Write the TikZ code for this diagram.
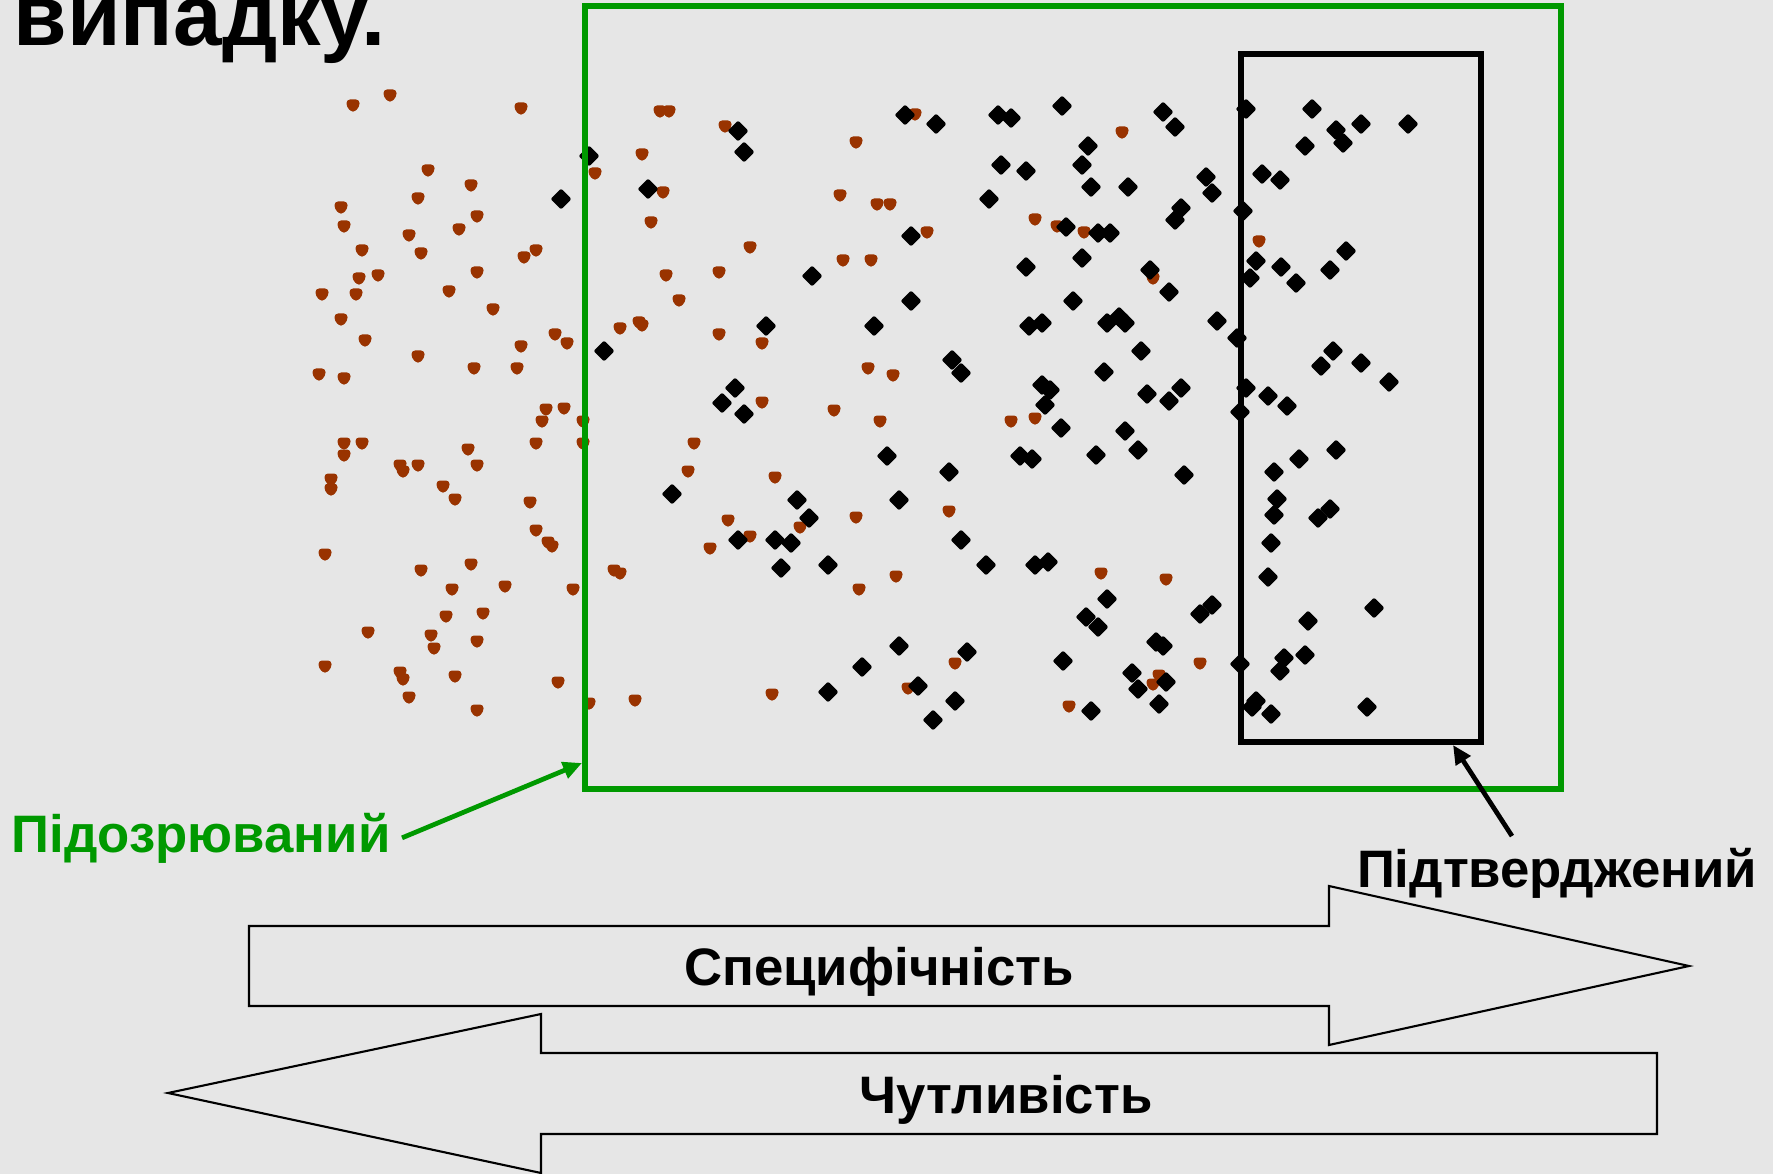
\documentclass[tikz,border=0pt]{standalone}
\usepackage{fontspec}
\setmainfont{Liberation Sans}
\usepackage{tikz}
\usetikzlibrary{arrows.meta}
\definecolor{SlideGray}{RGB}{230,230,230}
\definecolor{SlideGreen}{RGB}{0,153,0}
\definecolor{SlideBrown}{RGB}{153,51,0}

\begin{document}
\begin{tikzpicture}[x=0.1mm,y=-0.1mm,lbl/.style={font=\fontsize{15}{18}\selectfont\bfseries,inner sep=0pt},bigarrow/.style={draw=black,line width=0.6pt,fill=SlideGray},bdot/.style={fill=SlideBrown,rounded corners=0.35mm},dia/.style={fill=black,rounded corners=0.2mm},pointer/.style={line width=1.35pt,-{Triangle[length=5.4pt,width=4.8pt]}}]
\useasboundingbox (0,0) rectangle (1773,1174);
\fill[SlideGray] (0,0) rectangle (1773,1174);
\node[lbl,font=\fontsize{24.8}{29}\selectfont\bfseries,anchor=base west] (title) at (13,46) {випадку.};
\foreach \px/\py in %
{353/106,390/96,521/109,660/112,669/112,642/155,595/174,428/171,471/186,418/199,341/208,344/227,
 477/217,459/230,409/236,663/193,651/223,362/251,421/254,524/258,536/251,477/273,359/279,378/276,
 666/276,322/295,356/295,449/292,679/301,493/310,341/320,620/329,639/323,642/326,555/335,567/344,
 365/341,418/357,521/347,319/375,344/379,474/369,517/369,
 725/127,915/115,856/143,840/196,877/205,890/205,927/233,1035/220,1057/227,750/248,843/261,871/261,
 719/273,719/335,762/344,868/369,893/376,762/403,834/411,
 1122/133,1084/233,1259/242,1153/279,
 546/410,564/409,542/422,583/422,344/444,362/444,344/456,468/450,536/444,583/444,400/466,403/472,
 418/466,477/466,331/480,331/490,443/487,455/500,530/503,536/531,548/543,552/547,325/555,421/571,
 471/565,452/590,505/587,573/590,614/571,620/574,446/617,483/614,368/633,431/636,434/649,477/642,
 325/667,400/673,403/680,455/677,558/683,409/698,477/711,589/704,635/701,
 880/422,1011/422,1035/419,694/444,688/472,775/478,728/521,750/537,800/528,856/518,949/512,710/549,
 896/577,859/590,955/664,908/689,772/695,
 1101/574,1166/580,1200/664,1159/676,1153/685,1069/707} {
   \fill[bdot] (\px,\py) ++(-6.5,-6.5) -- ++(13,0) -- ++(0,7.5) -- ++(-6.5,6) -- ++(-6.5,-6) -- cycle;
}
\foreach \px/\py in %
{589/156,561/199,648/189,604/351,
 738/131,744/152,905/115,936/124,998/115,1011/118,1062/106,1001/165,1026/171,989/199,911/236,1066/227,
 1026/267,812/276,911/301,766/326,874/326,1029/326,1042/323,952/360,961/373,1042/385,1050/390,1045/405,
 735/388,722/403,744/414,
 1163/112,1175/127,1088/146,1082/165,1091/187,1128/187,1206/177,1212/193,1181/208,1175/220,1098/233,
 1110/233,1082/258,1150/270,1169/292,1073/301,1107/323,1119/317,1125/323,1141/351,1104/372,1147/394,
 1169/401,1181/388,1217/321,1237/338,1246/109,1243/211,1256/261,1250/278,1262/174,1280/180,1312/109,
 1305/146,1336/130,1343/143,1361/124,1408/124,1281/267,1296/283,1330/270,1346/251,1333/351,1321/366,
 1361/363,1389/382,1246/388,1268/396,1287/406,1240/412,
 672/494,
 1061/428,887/456,949/472,1020/456,1032/459,797/500,809/518,899/500,738/540,775/540,791/543,781/568,
 828/565,961/540,986/565,1035/565,1048/562,899/646,862/667,828/692,967/652,918/686,955/701,933/720,
 1125/431,1138/450,1096/455,1184/475,1274/472,1299/459,1336/450,1277/499,1274/515,1318/518,1330/509,
 1271/543,1268/577,1107/599,1086/617,1098/627,1200/614,1212/605,1156/642,1163/646,1308/621,1374/608,
 1063/661,1240/664,1284/658,1305/655,1280/671,1132/673,1138/689,1166/682,1159/704,1091/711,1256/701,
 1252/707,1271/714,1367/707} {
   \fill[dia] (\px,\py) ++(0,-10.5) -- ++(10.5,10.5) -- ++(-10.5,10.5) -- ++(-10.5,-10.5) -- cycle;
}
\draw[SlideGreen,line width=1.6pt] (585,6) rectangle (1561,789);
\draw[line width=1.6pt] (1241,54) rectangle (1481,742);
\node[lbl,text=SlideGreen,anchor=base west,inner xsep=1.1mm] (susp) at (0,852) {Підозрюваний};
\node[lbl,anchor=base] (conf) at (1557,887) {Підтверджений};
\coordinate (suspTip) at (582,763);
\coordinate (confTip) at (1453,745);
\draw[pointer,SlideGreen] (susp.east) -- (suspTip);
\draw[pointer] ([xshift=-4.5mm,yshift=1.1mm]conf.north) -- (confTip);
\draw[bigarrow] (249,926) -- (1329,926) -- (1329,886) -- (1689,966) -- (1329,1045) -- (1329,1006) -- (249,1006) -- cycle;
\draw[bigarrow] (1657,1053) -- (541,1053) -- (541,1014) -- (168,1093) -- (541,1173) -- (541,1134) -- (1657,1134) -- cycle;
\node[lbl,anchor=base] (spec) at (879,985) {Специфічність};
\node[lbl,anchor=base] (sens) at (1006,1113) {Чутливість};
\end{tikzpicture}
\end{document}
